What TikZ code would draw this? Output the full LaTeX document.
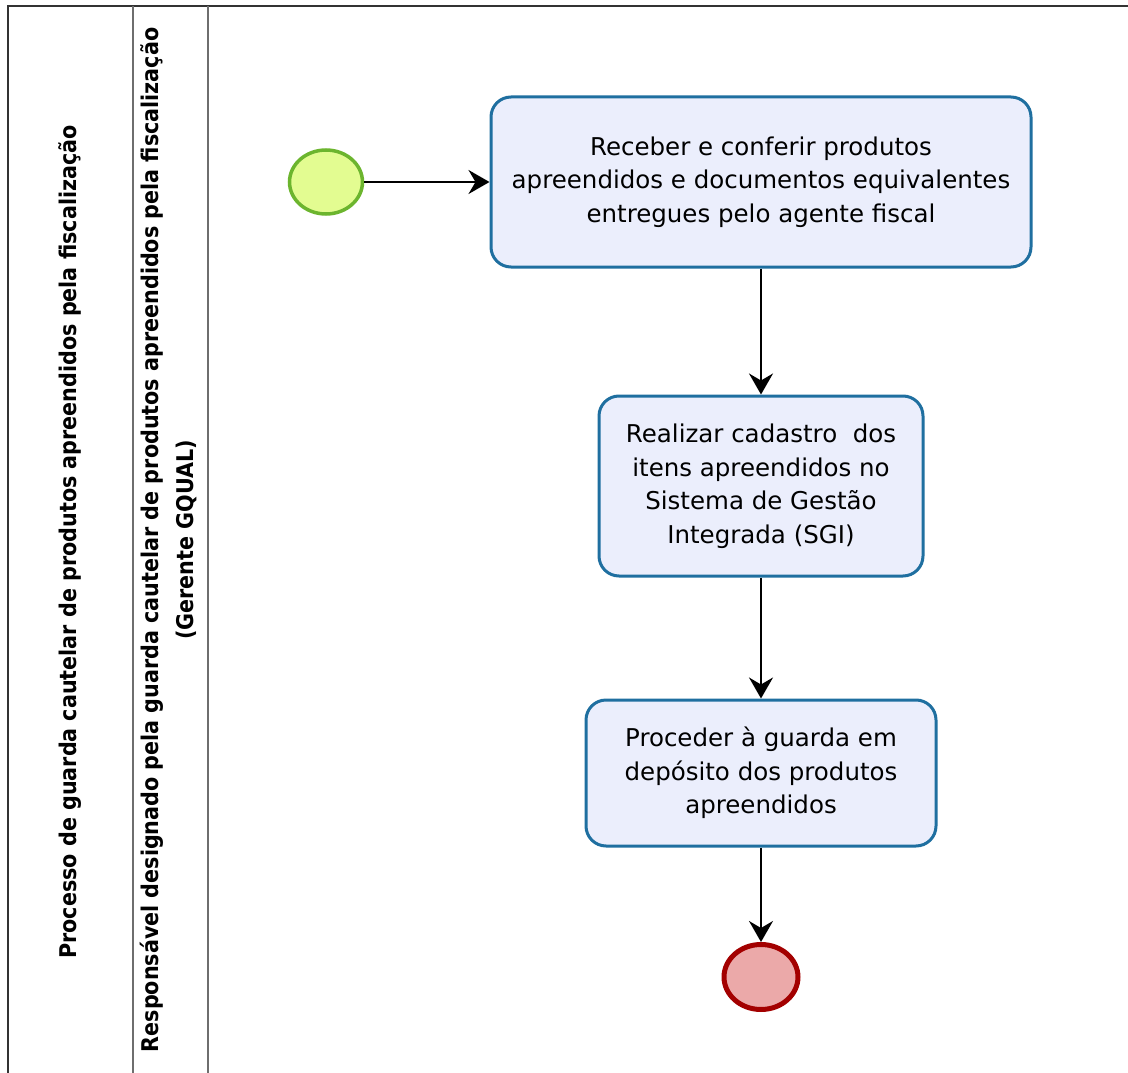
\documentclass[tikz,border=0pt]{standalone}
\usepackage{fontspec}
\setmainfont{DejaVu Sans}
\newfontfamily\lanefont{DejaVu Sans Condensed}
\usetikzlibrary{arrows.meta,shapes.geometric}
\definecolor{taskfill}{HTML}{EBEEFC}
\definecolor{taskdraw}{HTML}{1F6FA0}
\definecolor{startfill}{HTML}{E3FC91}
\definecolor{startdraw}{HTML}{6CB52E}
\definecolor{endfill}{HTML}{EBA9A9}
\definecolor{enddraw}{HTML}{A30000}
\definecolor{lanedraw}{HTML}{6E6E6E}
\tikzstyle{task} = [draw=taskdraw, fill=taskfill, line width=3pt, rounded corners=20pt, align=center, font=\fontsize{24.5}{33.5}\selectfont, inner sep=0pt]
\tikzstyle{start event} = [ellipse, draw=startdraw, fill=startfill, line width=3.5pt, minimum width=73pt, minimum height=64pt, inner sep=0pt]
\tikzstyle{end event} = [ellipse, draw=enddraw, fill=endfill, line width=5pt, minimum width=74pt, minimum height=65pt, inner sep=0pt]
\tikzstyle{flow} = [draw, line width=2pt, -{Stealth[length=21pt,width=24pt,inset=7pt]}]
\tikzstyle{lane} = [draw=lanedraw, line width=2pt]
\tikzstyle{lane title} = [rotate=90, align=center, font=\lanefont\bfseries\fontsize{23}{35}\selectfont]
\def\flows{start/receber, receber/cadastrar, cadastrar/guardar, guardar/end}

\begin{document}
\begin{tikzpicture}[x=1pt, y=-1pt]
  \useasboundingbox (0,0) rectangle (1128,1073);

  % pool and lanes
  \path[lane, draw=black!80] (1128,6) -- (8,6) -- (8,1073);
  \path[lane] (133,6) -- (133,1073);
  \path[lane] (208,6) -- (208,1073);
  \node[lane title] (pool) at (70,542) {Processo de guarda cautelar de produtos apreendidos pela fiscalização};
  \node[lane title] (role) at (168,540) {Responsável designado pela guarda cautelar de produtos apreendidos pela fiscalização\\(Gerente GQUAL)};

  % events and tasks
  \node[start event] (start) at (326,182) {};
  \node[task, minimum width=540pt, minimum height=170pt] (receber) at (761,182)
    {Receber e conferir produtos\\apreendidos e documentos equivalentes\\entregues pelo agente fiscal};
  \node[task, minimum width=324pt, minimum height=180pt] (cadastrar) at (761,486)
    {Realizar cadastro\ \ dos\\itens apreendidos no\\Sistema de Gestão\\Integrada (SGI)};
  \node[task, minimum width=350pt, minimum height=146pt] (guardar) at (761,773)
    {Proceder à guarda em\\depósito dos produtos\\apreendidos};
  \node[end event] (end) at (761,977) {};

  \foreach \source/\dest in \flows {
    \path[flow] (\source) -- (\dest);
    }

\end{tikzpicture}
\end{document}
